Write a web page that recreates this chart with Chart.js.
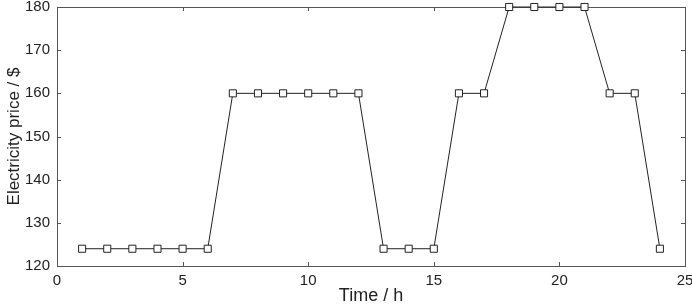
<!DOCTYPE html>
<html>
<head>
<meta charset="utf-8">
<script src="https://cdn.jsdelivr.net/npm/chart.js@4/dist/chart.umd.min.js"></script>
<style>
  html, body { margin: 0; padding: 0; background: #fff; }
  #wrap { width: 692px; height: 307px; }
</style>
</head>
<body>
<div id="wrap"><canvas id="price-chart" width="692" height="307"></canvas></div>
<script>
// hourly electricity price
let hours = [1, 2, 3, 4, 5, 6, 7, 8, 9, 10, 11, 12, 13, 14, 15, 16, 17, 18, 19, 20, 21, 22, 23, 24]
let prices = [124, 124, 124, 124, 124, 124, 160, 160, 160, 160, 160, 160, 124, 124, 124, 160, 160, 180, 180, 180, 180, 160, 160, 124]
let xTicks = [0, 5, 10, 15, 20, 25]
let yTicks = [120, 130, 140, 150, 160, 170, 180]

let points = hours.map((h, i) => ({ x: h, y: prices[i] }))

// box around the plot + inward tick marks on all four sides
const frameTicks = {
  id: 'frameTicks',
  beforeDatasetsDraw (chart) {
    let ctx = chart.ctx
    let area = chart.chartArea
    let xs = chart.scales.x
    let ys = chart.scales.y
    let len = 4
    ctx.save()
    ctx.strokeStyle = '#555'
    ctx.lineWidth = 1
    ctx.strokeRect(Math.round(area.left) + 0.5, Math.round(area.top) + 0.5,
      Math.round(area.right - area.left), Math.round(area.bottom - area.top))
    ctx.beginPath()
    xTicks.forEach(v => {
      let px = Math.round(xs.getPixelForValue(v)) + 0.5
      ctx.moveTo(px, area.bottom)
      ctx.lineTo(px, area.bottom - len)
      ctx.moveTo(px, area.top)
      ctx.lineTo(px, area.top + len)
    })
    yTicks.forEach(v => {
      let py = Math.round(ys.getPixelForValue(v)) + 0.5
      ctx.moveTo(area.left, py)
      ctx.lineTo(area.left + len, py)
      ctx.moveTo(area.right, py)
      ctx.lineTo(area.right - len, py)
    })
    ctx.stroke()
    ctx.restore()
  }
}

new Chart('price-chart', {
  type: 'line',
  data: {
    datasets: [
      {
        data: points,
        borderColor: '#222',
        borderWidth: 1,
        backgroundColor: '#fff',
        pointStyle: 'rect',
        pointRadius: 5,
        pointBorderColor: '#222',
        pointBorderWidth: 1,
        pointBackgroundColor: '#fff',
        tension: 0,
        fill: false,
        clip: false
      }
    ]
  },
  options: {
    responsive: false,
    animation: false,
    layout: { padding: { left: 4, right: 7, top: 7, bottom: 0 } },
    plugins: {
      legend: { display: false },
      tooltip: { enabled: false }
    },
    scales: {
      x: {
        type: 'linear',
        min: 0,
        max: 25,
        afterBuildTicks: (s) => { s.ticks = xTicks.map(v => ({ value: v })) },
        grid: { display: false, drawTicks: false },
        border: { display: false },
        ticks: {
          color: '#222',
          padding: 6,
          font: { family: 'Liberation Sans, Arial', size: 15 }
        },
        title: {
          display: true,
          text: 'Time / h',
          color: '#222',
          padding: { top: -4, bottom: 0 },
          font: { family: 'Liberation Sans, Arial', size: 18 }
        },
        afterFit: (s) => {
          s.height = 41
          s.paddingLeft = 0
          s.paddingRight = 0
        }
      },
      y: {
        min: 120,
        max: 180,
        afterBuildTicks: (s) => { s.ticks = yTicks.map(v => ({ value: v })) },
        grid: { display: false, drawTicks: false },
        border: { display: false },
        ticks: {
          color: '#222',
          padding: 7,
          font: { family: 'Liberation Sans, Arial', size: 15 }
        },
        title: {
          display: true,
          text: 'Electricity price / $',
          color: '#222',
          padding: { top: 0, bottom: 2 },
          font: { family: 'Liberation Sans, Arial', size: 17 }
        },
        afterFit: (s) => {
          s.width = 53
          s.paddingTop = 0
          s.paddingBottom = 0
        }
      }
    }
  },
  plugins: [frameTicks]
})
</script>
</body>
</html>
